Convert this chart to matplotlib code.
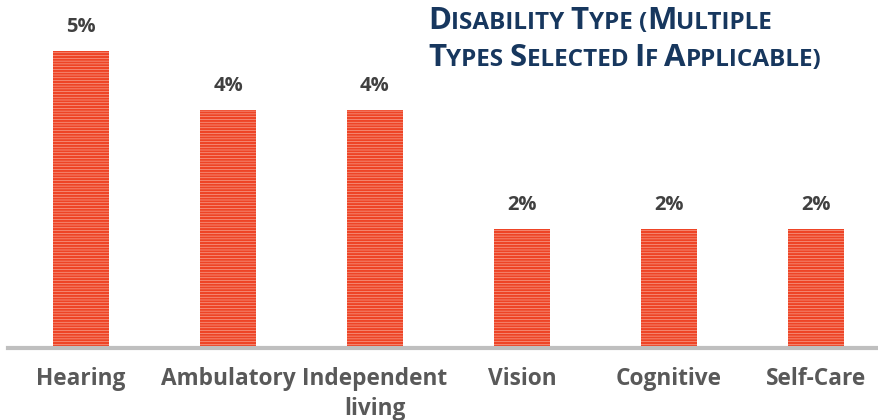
import matplotlib
matplotlib.use("Agg")
import matplotlib.pyplot as plt

categories = ["Hearing", "Ambulatory", "Independent\nliving", "Vision", "Cognitive", "Self-Care"]
values = [5, 4, 4, 2, 2, 2]
value_labels = ["5%", "4%", "4%", "2%", "2%", "2%"]

# title pieces: (text, is_capital)
title_lines = [
    [("D", 1), ("ISABILITY ", 0), ("T", 1), ("YPE (", 0), ("M", 1), ("ULTIPLE", 0)],
    [("T", 1), ("YPES ", 0), ("S", 1), ("ELECTED ", 0), ("I", 1), ("F ", 0), ("A", 1), ("PPLICABLE)", 0)],
]

plt.rcParams["font.family"] = ["Open Sans", "DejaVu Sans"]
plt.rcParams["hatch.linewidth"] = 1.6

fig = plt.figure(figsize=(8.79, 4.2), dpi=100)
ax = fig.add_axes([7.5 / 879, 72 / 420, 882 / 879, 350 / 420])

x = range(len(categories))
ax.bar(x, values, width=0.38, color="#F9B7A8", edgecolor="#EE4426",
       hatch="------", linewidth=0)

for i, (v, lab) in enumerate(zip(values, value_labels)):
    ax.annotate(lab, (i, v), xytext=(0, 10), textcoords="offset points",
                ha="center", va="bottom", fontsize=14.5, fontweight="bold",
                color="#404040")

ax.set_xlim(-0.5, 5.5)
ax.set_ylim(0, 350 / 59.5)
ax.set_xticks(list(x))
ax.set_xticklabels(categories, fontsize=16.3, fontweight="bold", color="#595959",
                   linespacing=1.3)
ax.tick_params(axis="x", length=0, pad=14)
ax.set_yticks([])
for s in ["top", "left", "right"]:
    ax.spines[s].set_visible(False)
ax.spines["bottom"].set_color("#BFBFBF")
ax.spines["bottom"].set_linewidth(3)
ax.spines["bottom"].set_clip_on(False)

# small-caps title, laid out piece by piece
fig.canvas.draw()
renderer = fig.canvas.get_renderer()
line_y = [1 - 29 / 420, 1 - 66 / 420]
for pieces, ly in zip(title_lines, line_y):
    xpos = 428 / 879
    for txt, cap in pieces:
        t = fig.text(xpos, ly, txt, fontsize=22.5 if cap else 17.5,
                     fontweight="bold", color="#17375E", ha="left",
                     va="baseline")
        bb = t.get_window_extent(renderer)
        xpos += bb.width / fig.bbox.width

fig.savefig("out.png", dpi=100)
